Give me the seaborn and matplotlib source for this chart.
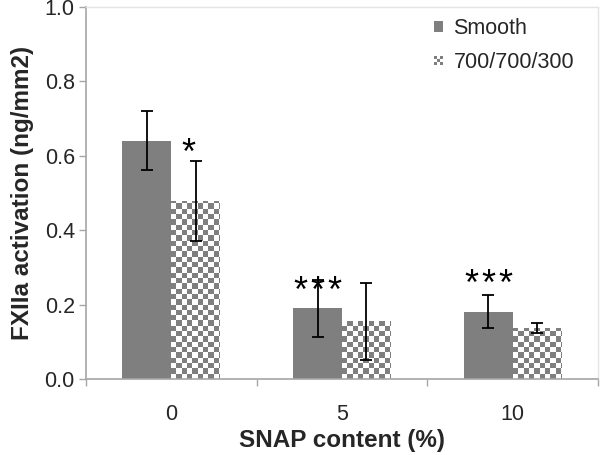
import numpy as np
import pandas as pd
import matplotlib
matplotlib.use('Agg')
import matplotlib.pyplot as plt
import seaborn as sns
from matplotlib.patches import Patch, Rectangle
from matplotlib.legend_handler import HandlerBase

# --- data ---
snap_levels = ["0", "5", "10"]
surfaces = ["Smooth", "700/700/300"]
smooth_vals = [0.641, 0.190, 0.181]
smooth_err = [0.080, 0.077, 0.045]
pattern_vals = [0.478, 0.155, 0.137]
pattern_err = [0.107, 0.103, 0.013]
smooth_stars = [0, 3, 3]      # number of significance asterisks
pattern_stars = [1, 0, 0]
star_y = [[None, 0.252, 0.271], [0.625, None, None]]

GRAY = "#7f7f7f"
AXIS_GRAY = "#a6a6a6"

sns.set_theme(style="white")
plt.rcParams['font.family'] = ['Liberation Sans', 'DejaVu Sans']


class CheckerHandler(HandlerBase):
    """Tiny checkerboard square for the legend key."""
    def create_artists(self, legend, orig_handle, xdescent, ydescent,
                       width, height, fontsize, trans):
        n = 3
        side = min(width, height)
        x0 = -xdescent + (width - side) / 2
        y0 = -ydescent + (height - side) / 2
        cell = side / n
        artists = [Rectangle((x0, y0), side, side, facecolor="white",
                             edgecolor="none", transform=trans)]
        for r in range(n):
            for c in range(n):
                if (r + c) % 2 == 0:
                    artists.append(Rectangle((x0 + c * cell, y0 + r * cell), cell, cell,
                                             facecolor=GRAY, edgecolor="none",
                                             transform=trans))
        return artists


def main():
    df = pd.DataFrame({
        "snap": snap_levels * 2,
        "surface": [surfaces[0]] * 3 + [surfaces[1]] * 3,
        "value": smooth_vals + pattern_vals,
        "err": smooth_err + pattern_err,
    })

    fig = plt.figure(figsize=(6, 4.55), dpi=100)
    ax = fig.add_axes([0.1433, 0.167, 0.8534, 0.8175])

    sns.barplot(data=df, x="snap", y="value", hue="surface", order=snap_levels,
                hue_order=surfaces, palette=[GRAY, GRAY], width=0.573, gap=0,
                errorbar=None, saturation=1, linewidth=0, legend=False, ax=ax)

    bars = ax.patches[:6]
    smooth_bars, pattern_bars = bars[:3], bars[3:]

    # checkerboard fill for the patterned surface, clipped to each bar
    nrows, ncols = 70, 96
    checker = (np.add.outer(np.arange(nrows), np.arange(ncols)) % 2).astype(float)
    cmap = matplotlib.colors.ListedColormap(["white", GRAY])
    for b in pattern_bars:
        b.set_facecolor("white")
        im = ax.imshow(checker, cmap=cmap, extent=(-0.5, 2.5, 0, 1), origin="lower",
                       aspect="auto", interpolation="nearest", zorder=b.get_zorder() + 0.1)
        im.set_clip_path(b)
    ax.set_xlim(-0.5, 2.5)
    ax.set_ylim(0, 1.0)

    # error bars
    for group, vals, errs in [(smooth_bars, smooth_vals, smooth_err),
                              (pattern_bars, pattern_vals, pattern_err)]:
        xs = [b.get_x() + b.get_width() / 2 for b in group]
        ax.errorbar(xs, vals, yerr=errs, fmt="none", ecolor="black",
                    elinewidth=1.3, capsize=4, capthick=1.3, zorder=5)

    # significance stars, one text per asterisk, 17 px apart
    # (asterisk glyph sits high, so the baseline is shifted down)
    step_pt = 17 * 0.72
    for gi, (group, counts) in enumerate([(smooth_bars, smooth_stars),
                                          (pattern_bars, pattern_stars)]):
        for i, (b, n) in enumerate(zip(group, counts)):
            if n == 0:
                continue
            x = b.get_x() + b.get_width() / 2
            if gi == 1:
                x -= 0.044
            for k in range(n):
                dx = (k - (n - 1) / 2) * step_pt
                ax.annotate("*", (x, star_y[gi][i]), xytext=(dx, -12.2),
                            textcoords="offset points", ha="center", va="baseline",
                            fontsize=26, color="black", zorder=6)

    # axes styling
    yt = np.arange(0, 1.01, 0.2)
    ax.set_yticks(yt)
    ax.set_yticklabels([f"{v:.1f}" for v in yt], fontsize=15.5)
    ax.set_xticks(range(3))
    ax.set_xticklabels(snap_levels, fontsize=15.5)
    ax.set_xticks([-0.5, 0.5, 1.5, 2.5], minor=True)
    ax.tick_params(axis="x", which="major", length=0, pad=18)
    ax.tick_params(axis="x", which="minor", length=5, width=1, color=AXIS_GRAY,
                   direction="out", bottom=True)
    ax.tick_params(axis="y", length=5, width=1, color=AXIS_GRAY, direction="out",
                   left=True, pad=3)
    ax.set_xlabel("SNAP content (%)", fontsize=17.5, fontweight="bold", labelpad=3)
    ax.set_ylabel("FXIIa activation (ng/mm2)", fontsize=17.5, fontweight="bold")
    ax.yaxis.set_label_coords(-0.102, 0.5)

    for side in ["left", "bottom"]:
        ax.spines[side].set_color(AXIS_GRAY)
        ax.spines[side].set_linewidth(1.2)
    for side in ["top", "right"]:
        ax.spines[side].set_color("#e4e4e4")
        ax.spines[side].set_linewidth(1.0)

    smooth_key = Patch(facecolor=GRAY, edgecolor="none")
    pattern_key = Patch(facecolor="white")
    ax.legend([smooth_key, pattern_key], surfaces, loc="upper left",
              bbox_to_anchor=((434 - 86) / 512, 0.97), frameon=False, fontsize=15.5,
              handlelength=0.4, handleheight=0.4, handletextpad=0.5,
              labelspacing=0.6, borderpad=0, borderaxespad=0,
              handler_map={pattern_key: CheckerHandler()})

    fig.savefig("out.png", dpi=100)
    plt.close(fig)


if __name__ == "__main__":
    main()
